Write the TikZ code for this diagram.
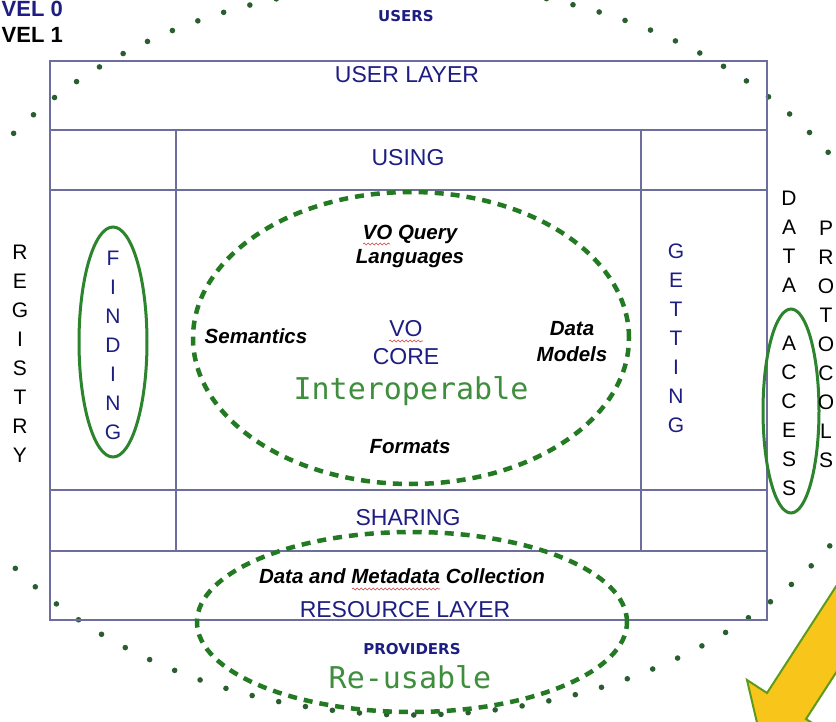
\documentclass[tikz,border=0pt]{standalone}
\usepackage{fontspec}
\setmainfont{Liberation Sans}
\newfontfamily\tagfont{DejaVu Sans}
\newfontfamily\codefont{DejaVu Sans Mono}
\usetikzlibrary{decorations.pathmorphing}

\definecolor{framecol}{HTML}{6E6E9E}
\definecolor{navy}{HTML}{1E1E82}
\definecolor{dashgreen}{HTML}{237A23}
\definecolor{ringgreen}{HTML}{2C842C}
\definecolor{dotgreen}{HTML}{2A5E30}
\definecolor{txtgreen}{HTML}{3E8E3E}
\definecolor{arrowfill}{HTML}{F8C61A}
\definecolor{arrowline}{HTML}{5E9A1C}
\definecolor{spellred}{HTML}{D04040}

\tikzset{
  frameline/.style={draw=framecol, line width=1.5pt},
  dashring/.style={draw=dashgreen, line width=4.5pt, dash pattern=on 9pt off 7pt},
  solidring/.style={draw=ringgreen, line width=3pt},
  dotring/.style={draw=dotgreen, line width=5.6pt, line cap=round, dash pattern=on 0pt off 27.2pt},
  layerlabel/.style={font=\fontsize{23}{23}\selectfont, text=navy, inner sep=0pt, anchor=base},
  taglabel/.style={font=\tagfont\bfseries\fontsize{15}{15}\selectfont, text=navy, inner sep=0pt, anchor=base},
  topic/.style={font=\bfseries\itshape\fontsize{20.5}{20.5}\selectfont, text=black, inner sep=0pt, anchor=base},
  fairword/.style={font=\codefont\fontsize{30}{30}\selectfont, text=txtgreen, inner sep=0pt, anchor=base},
  vertword/.style={font=\fontsize{21}{29}\selectfont, align=center, inner sep=0pt, anchor=center},
  levellabel/.style={font=\bfseries\fontsize{22}{22}\selectfont, inner sep=0pt, anchor=base east},
  spell/.style={draw=spellred, line width=0.6pt, decorate, decoration={snake, segment length=4pt, amplitude=0.9pt}},
}

\begin{document}
\begin{tikzpicture}[x=1pt, y=-1pt]
\path[use as bounding box] (0,0) rectangle (836,722);
\clip (0,0) rectangle (836,722);
\fill[white] (0,0) rectangle (836,722);

% outer ring of dots
\draw[dotring] (412,350) ellipse [x radius=495pt, y radius=365pt];

% layer frame and grid
\draw[frameline] (50,61) rectangle (767,620);
\draw[frameline] (50,130) -- (767,130);
\draw[frameline] (50,190) -- (767,190);
\draw[frameline] (50,490) -- (767,490);
\draw[frameline] (50,551) -- (767,551);
\draw[frameline] (176,130) -- (176,551);
\draw[frameline] (641,130) -- (641,551);

% green rings
\draw[dashring] (411,338) ellipse [x radius=218pt, y radius=146pt];
\draw[dashring] (412,622) ellipse [x radius=215pt, y radius=90pt];
\draw[solidring] (113,342) ellipse [x radius=34pt, y radius=115pt];
\draw[solidring] (791,411) ellipse [x radius=28pt, y radius=102pt];

% level captions
\node[levellabel, text=navy] (lvl0) at (63,16.5) {VEL 0};
\node[levellabel, text=black] (lvl1) at (63,43) {VEL 1};

% horizontal labels
\node[taglabel] (users) at (406,22) {USERS};
\node[layerlabel] (userlayer) at (407,83) {USER LAYER};
\node[layerlabel] (using) at (408,166) {USING};
\node[layerlabel] (sharing) at (408,525) {SHARING};
\node[topic] (collection) at (402,583) {Data and Metadata Collection};
\node[layerlabel] (resource) at (405,617) {RESOURCE LAYER};
\node[taglabel] (providers) at (412,654) {PROVIDERS};
\node[fairword] (reusable) at (410,688) {Re-usable};

% core contents
\node[topic] (query) at (410,240) {VO Query};
\node[topic] (languages) at (410,264) {Languages};
\node[topic] (semantics) at (256,343) {Semantics};
\node[topic] (data) at (572,336) {Data};
\node[topic] (models) at (572,361) {Models};
\node[topic] (formats) at (410,453) {Formats};
\node[layerlabel] (vo) at (406,337) {VO};
\node[layerlabel] (core) at (406,364) {CORE};
\node[fairword] (interop) at (411,399) {Interoperable};

% spell-check squiggles
\draw[spell] (363,244) -- (390,244);
\draw[spell] (389,341) -- (423,341);
\draw[spell] (352,589) -- (440,589);

% vertical words
\node[vertword, text=black] (registry) at (20,353.5) {R\\E\\G\\I\\S\\T\\R\\Y};
\node[vertword, text=navy] (finding) at (113,345) {F\\I\\N\\D\\I\\N\\G};
\node[vertword, text=navy] (getting) at (676,338) {G\\E\\T\\T\\I\\N\\G};
\node[vertword, text=black] (dataaccess) at (789,343) {D\\A\\T\\A\\\mbox{}\\A\\C\\C\\E\\S\\S};
\node[vertword, text=black] (protocols) at (826,344) {P\\R\\O\\T\\O\\C\\O\\L\\S};

% yellow arrow
\filldraw[fill=arrowfill, draw=arrowline, line width=2pt, line join=miter]
  (903,483) -- (767,693) -- (747,680) -- (762,744) -- (826,732) -- (806,719) -- (942,509) -- cycle;
\end{tikzpicture}
\end{document}
